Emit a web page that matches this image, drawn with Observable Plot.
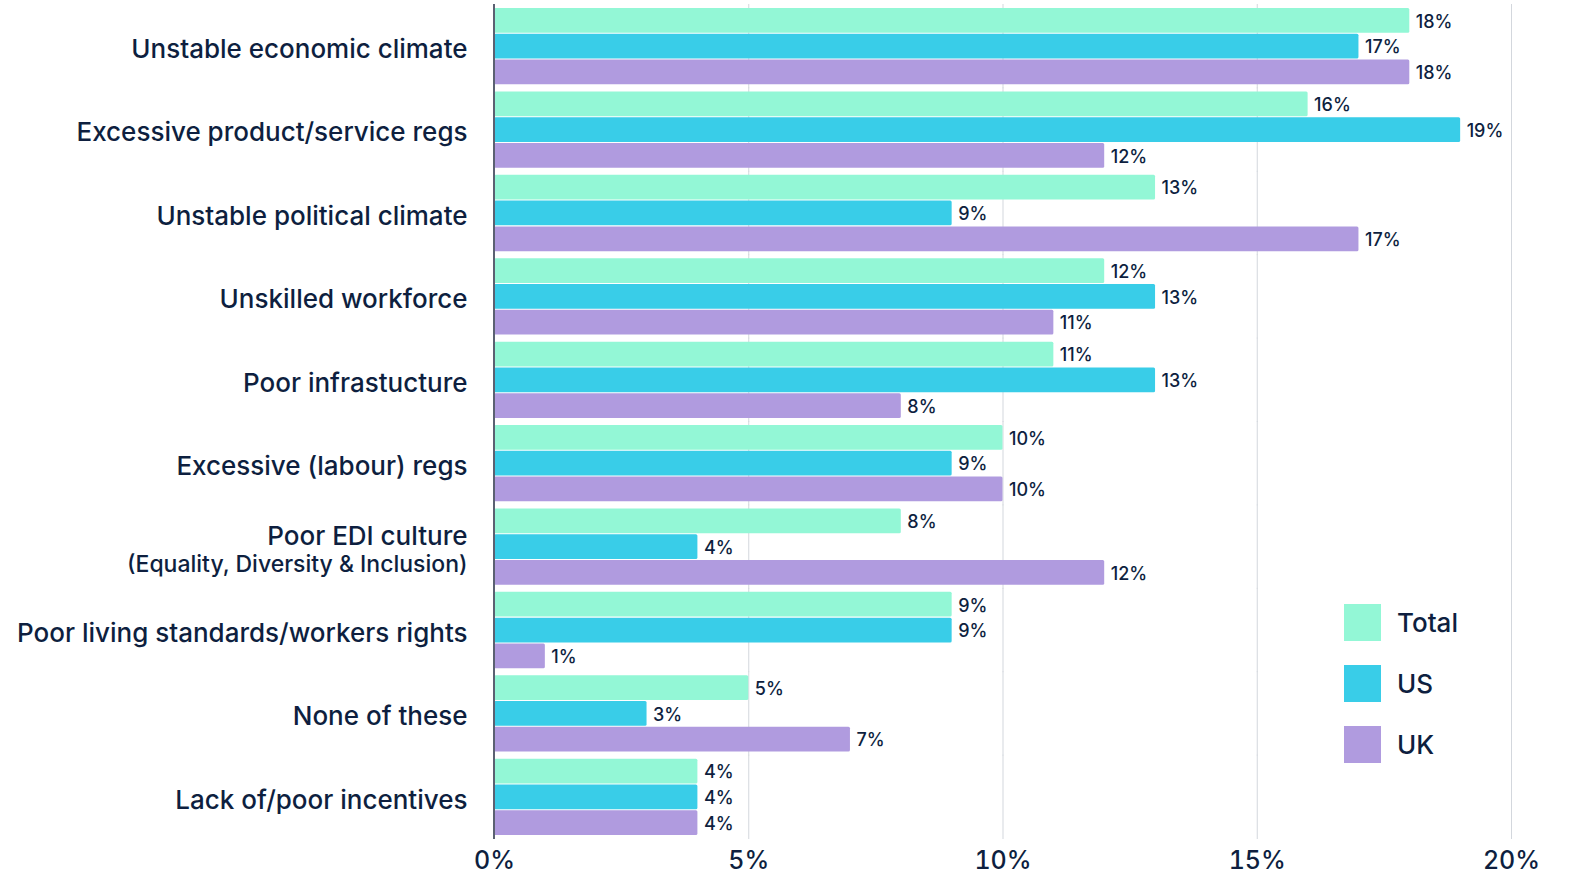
<!DOCTYPE html>
<html>
<head>
<meta charset="utf-8">
<script src="https://cdn.jsdelivr.net/npm/d3@7"></script>
<script src="https://cdn.jsdelivr.net/npm/@observablehq/plot@0.6"></script>
<style>
  html, body { margin: 0; padding: 0; background: #fff; }
  #wrap { position: relative; width: 1570px; height: 875px; font-family: Inter, "Noto Sans", sans-serif; }
  .legend { position: absolute; left: 1344px; top: 603px; }
  .legend .item { display: flex; align-items: center; height: 38px; margin-bottom: 23px; }
  .legend .sw { width: 37px; height: 37px; margin-right: 16px; }
  .legend .lab { font-size: 26px; font-weight: 500; color: #0e1f3f; }
</style>
</head>
<body>
<div id="wrap"></div>
<script>
const categories = [
  "Unstable economic climate",
  "Excessive product/service regs",
  "Unstable political climate",
  "Unskilled workforce",
  "Poor infrastucture",
  "Excessive (labour) regs",
  "Poor EDI culture",
  "Poor living standards/workers rights",
  "None of these",
  "Lack of/poor incentives"
];
const subLabels = ["", "", "", "", "", "", "(Equality, Diversity & Inclusion)", "", "", ""];
const series = ["Total", "US", "UK"];
const totalValues = [18, 16, 13, 12, 11, 10, 8, 9, 5, 4];
const usValues    = [17, 19, 9, 13, 13, 9, 4, 9, 3, 4];
const ukValues    = [18, 12, 17, 11, 8, 10, 12, 1, 7, 4];
const xTicks = [0, 5, 10, 15, 20];
const colors = ["#93f7d6", "#39cde8", "#b09bdf"];
const ink = "#0e1f3f";

const valuesBySeries = [totalValues, usValues, ukValues];
const rows = [];
categories.forEach((c, i) => {
  series.forEach((s, j) => rows.push({category: c, series: s, value: valuesBySeries[j][i]}));
});
const labelRows = categories.map((c, i) => ({category: c, sub: subLabels[i]}));

const fontFamily = "Inter, 'Noto Sans', sans-serif";

const chart = Plot.plot({
  width: 1570,
  height: 875,
  marginLeft: 494,
  marginRight: 59,
  marginTop: 8,
  marginBottom: 40,
  style: {fontFamily, color: ink, background: "#fff", overflow: "visible"},
  x: {domain: [0, 20], axis: null},
  fy: {domain: categories, paddingInner: 0.085, paddingOuter: 0, round: false, axis: null, label: null},
  y: {domain: series, paddingInner: 0.04, paddingOuter: 0, round: false, axis: null},
  color: {domain: series, range: colors},
  marks: [
    Plot.ruleX(xTicks.slice(1), {stroke: "#d3d7dd", strokeWidth: 1, insetTop: -4, insetBottom: -4}),
    Plot.barX(rows, {x: "value", y: "series", fy: "category", fill: "series", rx: 1.5}),
    Plot.ruleX([0], {stroke: "#5b6172", strokeWidth: 2, dx: -0.5, insetTop: -4, insetBottom: -4}),
    Plot.text(rows, {x: "value", y: "series", fy: "category", text: d => d.value + "%", textAnchor: "start", dx: 6, dy: 1, fontSize: 18, fontWeight: 500, fill: ink}),
    Plot.axisX(xTicks, {tickFormat: d => d + "%", tickSize: 0, tickPadding: 16, fontSize: 25, fontWeight: 500, fill: ink, label: null}),
    Plot.text(labelRows.filter(d => !d.sub), {fy: "category", text: "category", frameAnchor: "left", textAnchor: "end", dx: -27, dy: 3, fontSize: 26, fontWeight: 500, fill: ink}),
    Plot.text(labelRows.filter(d => d.sub), {fy: "category", text: "category", frameAnchor: "left", textAnchor: "end", dx: -27, dy: -10, fontSize: 26, fontWeight: 500, fill: ink}),
    Plot.text(labelRows.filter(d => d.sub), {fy: "category", text: "sub", frameAnchor: "left", textAnchor: "end", dx: -27, dy: 18, fontSize: 23, fontWeight: 500, fill: ink})
  ]
});

const wrap = document.getElementById("wrap");
wrap.appendChild(chart);
const legend = document.createElement("div");
legend.className = "legend";
series.forEach((s, i) => {
  const item = document.createElement("div");
  item.className = "item";
  const sw = document.createElement("div");
  sw.className = "sw";
  sw.style.background = colors[i];
  const lab = document.createElement("div");
  lab.className = "lab";
  lab.textContent = s;
  item.appendChild(sw);
  item.appendChild(lab);
  legend.appendChild(item);
});
wrap.appendChild(legend);
</script>
</body>
</html>
